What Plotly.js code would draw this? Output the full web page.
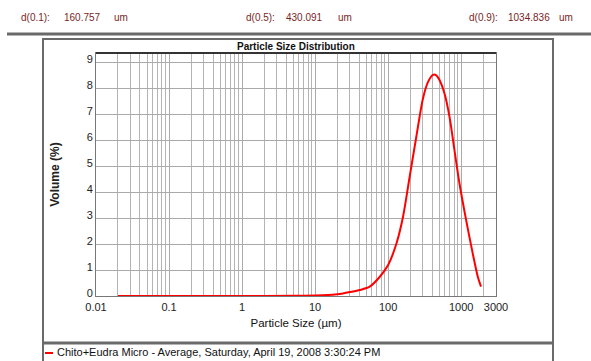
<!DOCTYPE html>
<html><head><meta charset="utf-8">
<script src="https://cdn.plot.ly/plotly-3.0.1.min.js"></script>
<style>html,body{margin:0;padding:0;background:#fff}#c{width:591px;height:361px}</style>
</head><body><div id="c"></div>
<script>
const sizes  = [0.02, 0.1, 1, 5, 10, 15, 20, 24, 30, 41, 56, 77, 100, 130, 160, 197, 243, 300, 351, 411, 456, 507, 593, 693, 810, 948, 1170, 1440, 1690, 1870];
const volume = [0, 0, 0, 0.01, 0.02, 0.04, 0.07, 0.1, 0.15, 0.23, 0.36, 0.74, 1.19, 2.02, 3.05, 4.58, 6.12, 7.6, 8.23, 8.51, 8.49, 8.3, 7.78, 6.89, 5.61, 4.33, 2.92, 1.64, 0.74, 0.36];
const xTickVals = [0.01, 0.1, 1, 10, 100, 1000, 3000];
const xTickText = ["0.01", "0.1", "1", "10", "100", "1000", "3000"];
const yTickVals = [0, 1, 2, 3, 4, 5, 6, 7, 8, 9];
const seriesName = "Chito+Eudra Micro - Average, Saturday, April 19, 2008 3:30:24 PM";
const chartTitle = "Particle Size Distribution";
const statLabels = ["d(0.1):", "d(0.5):", "d(0.9):"];
const statValues = ["160.757", "430.091", "1034.836"];
const statUnit = "um";

const minorVals = [];
for (let e = -2; e <= 3; e++) for (let m = 2; m <= 9; m++) { const v = m * Math.pow(10, e); if (v < 3000) minorVals.push(v); }

const F = "'Liberation Sans Narrow','Arial Narrow','Liberation Sans',Arial,sans-serif";
const W = 591, H = 361, L = 96, R = 496, T = 53, B = 296;
const px = x => (x - L) / (R - L);
const py = y => (B - y) / (B - T);

const statX = [[19, 62, 112], [244, 284, 336], [467, 506, 557]];
const anns = [];
statLabels.forEach((lab, i) => {
  [lab, statValues[i], statUnit].forEach((t, j) => {
    anns.push({text: t, x: px(statX[i][j]), y: py(17), xref: 'paper', yref: 'paper', xanchor: 'left', yanchor: 'middle', showarrow: false, font: {family: F, size: 10, color: '#7a1f1f'}});
  });
});
anns.push({text: seriesName, x: px(55), y: py(352), xref: 'paper', yref: 'paper', xanchor: 'left', yanchor: 'middle', showarrow: false, font: {family: F, size: 11, color: '#111'}});
anns.push({text: '<b>' + chartTitle + '</b>', x: 0.5, y: py(46), xref: 'paper', yref: 'paper', xanchor: 'center', yanchor: 'middle', showarrow: false, font: {family: F, size: 10, color: '#111'}});

const shapes = [
  {type: 'line', xref: 'paper', yref: 'paper', x0: px(7), x1: px(591), y0: py(34), y1: py(34), line: {color: '#6a6a6a', width: 3}},
  {type: 'rect', xref: 'paper', yref: 'paper', x0: px(43), x1: px(553), y0: py(370), y1: py(39), line: {color: '#6a6a6a', width: 2}},
  {type: 'line', xref: 'paper', yref: 'paper', x0: px(43), x1: px(553), y0: py(343), y1: py(343), line: {color: '#6a6a6a', width: 3}},
  {type: 'line', xref: 'paper', yref: 'paper', x0: px(45), x1: px(53), y0: py(353), y1: py(353), line: {color: '#ff0000', width: 2}},
  {type: 'line', xref: 'paper', yref: 'paper', x0: 0, x1: 1, y0: 1, y1: 1, line: {color: '#333', width: 2}}
];

Plotly.newPlot('c', [{
  x: sizes, y: volume, type: 'scatter', mode: 'lines', name: seriesName,
  line: {color: '#ff0000', width: 2, shape: 'spline', smoothing: 0.8}
}], {
  width: W, height: H,
  margin: {l: L, r: W - R, t: T, b: H - B, pad: 0},
  paper_bgcolor: '#fff', plot_bgcolor: '#fff',
  showlegend: false,
  xaxis: {
    type: 'log', range: [-2, Math.log10(3000)], tickmode: 'array', tickvals: xTickVals, ticktext: xTickText,
    showgrid: true, gridcolor: '#aaaaaa', gridwidth: 1, ticks: '', zeroline: false,
    showline: true, mirror: true, linecolor: '#777', linewidth: 1,
    tickfont: {family: F, size: 11, color: '#222'}, ticklabelstandoff: 1,
    minor: {tickmode: 'array', tickvals: minorVals, showgrid: true, gridcolor: '#b4b4b4', gridwidth: 1, ticks: ''},
    title: {text: 'Particle Size (µm)', standoff: 6, font: {family: F, size: 11.5, color: '#111'}}
  },
  yaxis: {
    range: [0, 9.35], tickmode: 'array', tickvals: yTickVals, showgrid: true, gridcolor: '#aaaaaa', gridwidth: 1,
    ticks: '', zeroline: false, showline: true, mirror: true, linecolor: '#777', linewidth: 1,
    tickfont: {family: F, size: 11, color: '#222'}, ticklabelshift: -3,
    title: {text: '<b>Volume (%)</b>', standoff: 24, font: {family: F, size: 12, color: '#222'}}
  },
  annotations: anns, shapes: shapes
}, {staticPlot: true});
</script></body></html>
